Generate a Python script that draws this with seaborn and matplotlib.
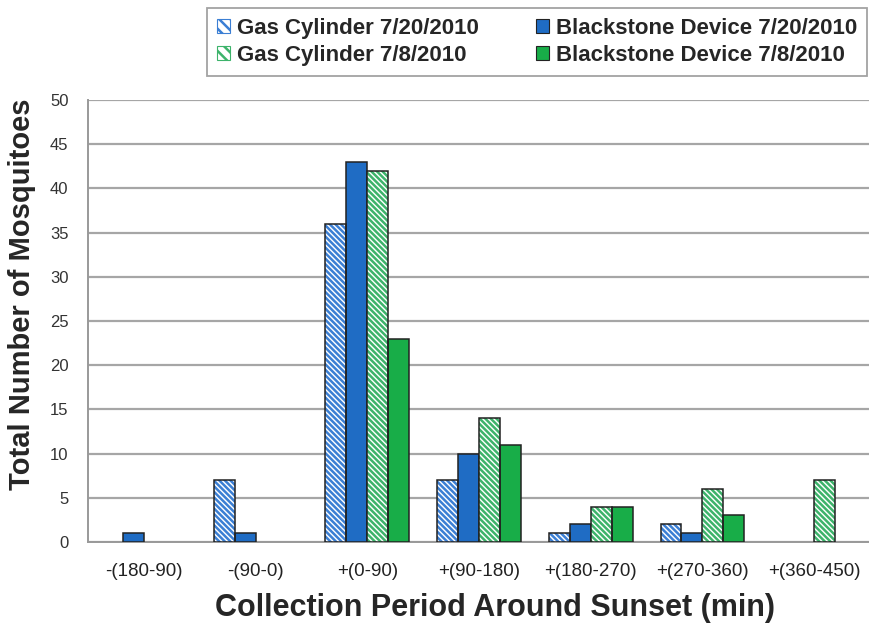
import matplotlib
matplotlib.use("Agg")
import matplotlib.pyplot as plt
from matplotlib.patches import Patch, Rectangle
import pandas as pd
import seaborn as sns

# collection periods around sunset (min)
periods = ["-(180-90)", "-(90-0)", "+(0-90)", "+(90-180)",
           "+(180-270)", "+(270-360)", "+(360-450)"]
series = ["Gas Cylinder 7/20/2010", "Blackstone Device 7/20/2010",
          "Gas Cylinder 7/8/2010", "Blackstone Device 7/8/2010"]

gas_0720 = [0, 7, 36, 7, 1, 2, 0]
black_0720 = [1, 1, 43, 10, 2, 1, 0]
gas_0708 = [0, 0, 42, 14, 4, 6, 7]
black_0708 = [0, 0, 23, 11, 4, 3, 0]

rows = []
for name, vals in zip(series, [gas_0720, black_0720, gas_0708, black_0708]):
    for p, v in zip(periods, vals):
        rows.append({"period": p, "series": name, "count": v})
df = pd.DataFrame(rows)

sns.set_style("white")
plt.rcParams["font.family"] = ["Liberation Sans", "DejaVu Sans"]
plt.rcParams["hatch.linewidth"] = 1.8

colors = ["#3b7fd4", "#1f6cc4", "#3db36b", "#18ad48"]
hatched = [True, False, True, False]
hatch = "\\\\\\\\\\\\"

fig = plt.figure(figsize=(8.7, 6.24), dpi=100)
ax = fig.add_axes([88 / 870, 1 - 542 / 624, 782 / 870, 442 / 624])

sns.barplot(data=df, x="period", y="count", hue="series", hue_order=series,
            order=periods, palette=colors, saturation=1, width=0.75, gap=0,
            legend=False, ax=ax, zorder=3)

for cont, col, h in zip(ax.containers, colors, hatched):
    for bar in cont:
        if bar.get_height() == 0:
            bar.set_visible(False)
            continue
        if h:
            bar.set_facecolor("white")
            bar.set_edgecolor(col)
            bar.set_hatch(hatch)
            bar.set_linewidth(0)
            ax.add_patch(Rectangle(bar.get_xy(), bar.get_width(), bar.get_height(),
                                   fill=False, edgecolor="#222222", linewidth=1.1,
                                   zorder=4))
        else:
            bar.set_edgecolor("#222222")
            bar.set_linewidth(1.1)

ax.set_ylim(0, 50)
ax.set_xlim(-0.5, 6.5)
ax.set_yticks(range(0, 51, 5))
ax.yaxis.grid(True, color="#a6a6a6", linewidth=1.6, zorder=0)
ax.set_axisbelow(True)
for s in ["top", "right"]:
    ax.spines[s].set_visible(False)
for s in ["left", "bottom"]:
    ax.spines[s].set_color("#999999")
    ax.spines[s].set_linewidth(1.4)

ax.tick_params(axis="y", length=4, color="#999999", labelsize=12, pad=10,
               labelcolor="#333333")
ax.tick_params(axis="x", which="major", length=0, labelsize=13.5, pad=15,
               labelcolor="#222222")
ax.set_xticks([i + 0.5 for i in range(-1, 7)], minor=True)
ax.tick_params(axis="x", which="minor", length=5, color="#999999")

ax.set_xlabel("Collection Period Around Sunset (min)", fontsize=22, fontweight="bold")
ax.set_ylabel("Total Number of Mosquitoes", fontsize=21, fontweight="bold")
ax.xaxis.set_label_coords(0.52, -0.115)
ax.yaxis.set_label_coords(-0.084, 0.56)
ax.yaxis.label.set_verticalalignment("center")

handles = []
for col, h in zip(colors, hatched):
    if h:
        handles.append(Patch(facecolor="white", edgecolor=col, hatch="\\\\\\", linewidth=0.8))
    else:
        handles.append(Patch(facecolor=col, edgecolor="#222222", linewidth=0.8))
order = [0, 2, 1, 3]
leg = fig.legend([handles[i] for i in order], [series[i] for i in order],
                 ncol=2, loc="upper left", mode="expand", borderaxespad=0,
                 bbox_to_anchor=(207 / 870, 1 - 78 / 624, 660 / 870, 70 / 624),
                 frameon=True, fancybox=False, edgecolor="#8c8c8c",
                 prop={"weight": "bold", "size": 16},
                 handlelength=0.6, handleheight=0.6, handletextpad=0.3,
                 borderpad=0.45, labelspacing=0.25, columnspacing=1.0)
leg.get_frame().set_linewidth(1.3)

fig.savefig("out.png", dpi=100)
